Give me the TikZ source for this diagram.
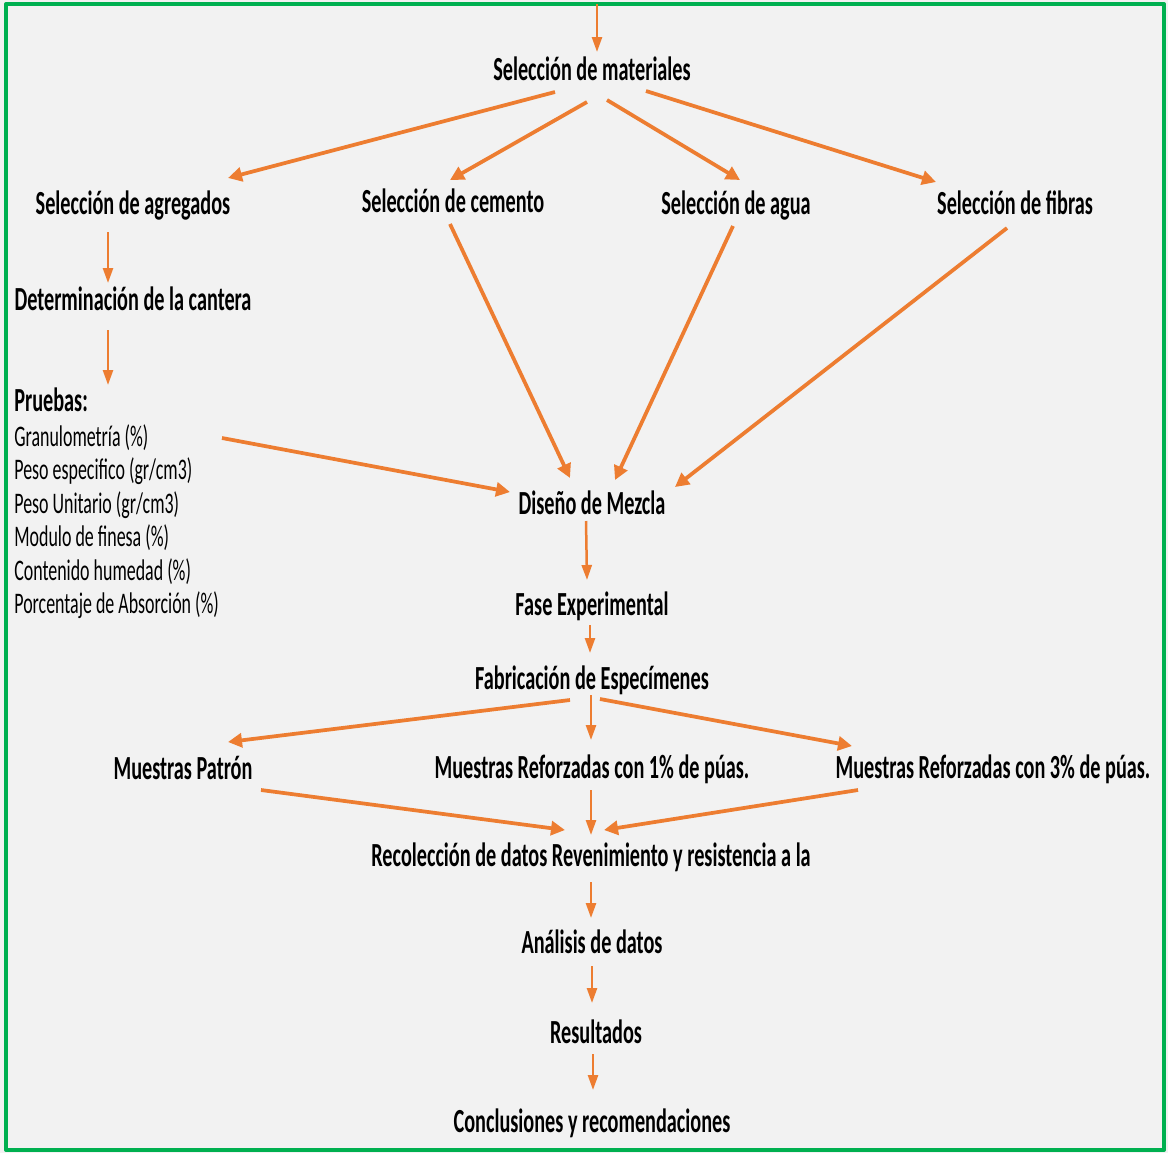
\documentclass[tikz,border=0pt]{standalone}
\usepackage{fontspec}
\setmainfont[FakeStretch=0.6]{Carlito}
\usetikzlibrary{arrows.meta}
\definecolor{flechanaranja}{RGB}{237,125,49}
\definecolor{bordeverde}{RGB}{0,176,80}
\definecolor{fondogris}{RGB}{242,242,242}

\begin{document}
\begin{tikzpicture}[x=0.02cm,y=-0.02cm,line cap=butt,line join=round,
    etiqueta/.style={font=\fontsize{19.2}{23}\selectfont\bfseries,inner sep=0pt,anchor=base},
    ensayo/.style={font=\fontsize{17}{20}\selectfont,inner sep=0pt,anchor=base west},
    flecha/.style={flechanaranja,line width=0.075cm,-{Triangle[length=0.28cm,width=0.28cm]}},
    flechita/.style={flechanaranja,line width=0.05cm,-{Triangle[length=0.3cm,width=0.2cm]}}]

        % Fondo y marco
        \fill[fondogris] (0,0) rectangle (1168,1153);
        \draw[bordeverde,line width=0.08cm] (6,4) rectangle (1164,1150);
        \coordinate (entrada) at (597,4);

        % Nivel superior
        \node[etiqueta] (mat) at (592,80) {Selección de materiales};
        \node[etiqueta] (agr) at (133,214) {Selección de agregados};
        \node[etiqueta] (cem) at (453,212) {Selección de cemento};
        \node[etiqueta] (agu) at (736,214) {Selección de agua};
        \node[etiqueta] (fib) at (1015,214) {Selección de fibras};

        % Rama de agregados
        \node[etiqueta] (can) at (133,310) {Determinación de la cantera};
        \node[etiqueta,anchor=base west] (pru) at (14,411) {Pruebas:};
        \foreach \i/\txt in {1/{Granulometría (\%)},2/{Peso especifico (gr/cm3)},
            3/{Peso Unitario (gr/cm3)},4/{Modulo de finesa (\%)},
            5/{Contenido humedad (\%)},6/{Porcentaje de Absorción (\%)}} {
            \node[ensayo] (ens\i) at (14,{446+33.5*(\i-1)}) {\txt};
        }

        % Tronco central
        \node[etiqueta] (dis) at (592,514) {Diseño de Mezcla};
        \node[etiqueta] (fas) at (592,615) {Fase Experimental};
        \node[etiqueta] (fab) at (592,689) {Fabricación de Especímenes};
        \node[etiqueta] (pat) at (183,779) {Muestras Patrón};
        \node[etiqueta] (uno) at (592,778) {Muestras Reforzadas con 1\% de púas.};
        \node[etiqueta] (tre) at (993,778) {Muestras Reforzadas con 3\% de púas.};
        \node[etiqueta] (rec) at (591,866) {Recolección de datos Revenimiento y resistencia a la};
        \node[etiqueta] (ana) at (592,953) {Análisis de datos};
        \node[etiqueta] (res) at (596,1043) {Resultados};
        \node[etiqueta] (con) at (592,1132) {Conclusiones y recomendaciones};

        % Flechas de selección
        \draw[flechita] (entrada) -- ([shift={(5,-28)}]mat.base);
        \draw[flecha] ([shift={(-37,12)}]mat.base) -- ([shift={(95,-36)}]agr.base);
        \draw[flecha] ([shift={(-5,22)}]mat.base) -- ([shift={(-3,-32)}]cem.base);
        \draw[flecha] ([shift={(15,20)}]mat.base) -- ([shift={(4,-34)}]agu.base);
        \draw[flecha] ([shift={(54,11)}]mat.base) -- ([shift={(-79,-32)}]fib.base);

        % Agregados hacia pruebas
        \draw[flechita] ([shift={(-25,18)}]agr.base) -- ([shift={(-25,-27)}]can.base);
        \draw[flechita] ([shift={(-25,20)}]can.base) -- ([shift={(94,-26)}]pru.base west);

        % Entradas al diseño de mezcla
        \draw[flecha] ([shift={(208,-8)}]ens1.base west) -- ([shift={(-82,-22)}]dis.base);
        \draw[flecha] ([shift={(-3,12)}]cem.base) -- ([shift={(-22,-36)}]dis.base);
        \draw[flecha] ([shift={(-3,12)}]agu.base) -- ([shift={(23,-34)}]dis.base);
        \draw[flecha] ([shift={(-8,14)}]fib.base) -- ([shift={(83,-27)}]dis.base);

        % Fase experimental y especímenes
        \draw[flechita] ([shift={(-6,7)}]dis.base) -- ([shift={(-5,-35)}]fas.base);
        \draw[flechita] ([shift={(-2,10)}]fas.base) -- ([shift={(-2,-36)}]fab.base);
        \draw[flecha] ([shift={(-22,11)}]fab.base) -- ([shift={(45,-37)}]pat.base);
        \draw[flechita] ([shift={(-1,6)}]fab.base) -- ([shift={(-1,-38)}]uno.base);
        \draw[flecha] ([shift={(8,10)}]fab.base) -- ([shift={(-141,-32)}]tre.base);

        % Recolección y cierre
        \draw[flecha] ([shift={(78,11)}]pat.base) -- ([shift={(-26,-36)}]rec.base);
        \draw[flechita] ([shift={(-1,12)}]uno.base) -- ([shift={(0,-31)}]rec.base);
        \draw[flecha] ([shift={(-135,12)}]tre.base) -- ([shift={(13,-36)}]rec.base);
        \draw[flechita] ([shift={(0,16)}]rec.base) -- ([shift={(-1,-35)}]ana.base);
        \draw[flechita] ([shift={(0,13)}]ana.base) -- ([shift={(-4,-40)}]res.base);
        \draw[flechita] ([shift={(-3,11)}]res.base) -- ([shift={(1,-42)}]con.base);
    \end{tikzpicture}
\end{document}
